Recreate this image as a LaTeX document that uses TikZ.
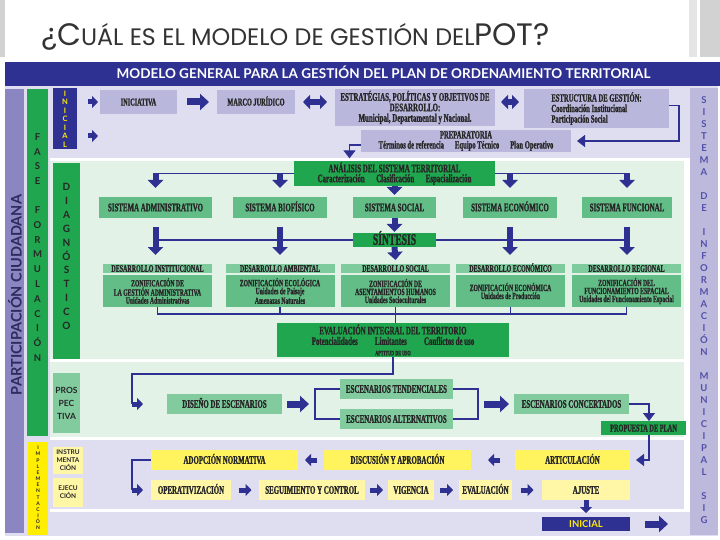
\documentclass[tikz,border=0pt]{standalone}
\usepackage{fontspec}
\usepackage{tikz}
\usetikzlibrary{arrows.meta,positioning,calc}
\newfontfamily\cond{Liberation Serif}[FakeStretch=0.6,BoldFeatures={FakeBold=1.2}]
\newfontfamily\gill{Lato}
\newfontfamily\ttl{Poppins}
\newcommand\boxfont[2]{\cond\bfseries\fontsize{#1}{#2}\selectfont}
\newcommand\capfont[2]{\gill\bfseries\fontsize{#1}{#2}\selectfont}
\definecolor{navy}{HTML}{2E3192}
\definecolor{lavbg}{HTML}{DFDEF0}
\definecolor{lavbox}{HTML}{B9B7DB}
\definecolor{sigcol}{HTML}{BCB9DD}
\definecolor{sigtxt}{HTML}{5350A8}
\definecolor{partcol}{HTML}{8B85C2}
\definecolor{parttxt}{HTML}{2F2B5E}
\definecolor{greenbg}{HTML}{E3F2E7}
\definecolor{dgreen}{HTML}{1FA64E}
\definecolor{mgreen}{HTML}{62BD87}
\definecolor{hgreen}{HTML}{7ECB9E}
\definecolor{pgreen}{HTML}{82CB9F}
\definecolor{ybright}{HTML}{FFEE00}
\definecolor{yfill}{HTML}{FFF35E}
\definecolor{ypale}{HTML}{FFF7A6}
\definecolor{titlec}{HTML}{333333}
\tikzset{
  rowbox/.style={fill=lavbox,minimum height=24pt,font=\boxfont{10.5}{10.5},text height=7pt,text depth=0pt},
  lavmulti/.style={fill=lavbox,font=\boxfont{11}{10.5}},
  keybox/.style={fill=dgreen,font=\boxfont{11.5}{10}},
  sysbox/.style={fill=mgreen,minimum height=21pt,font=\boxfont{11.5}{11.5},text height=7.5pt,text depth=0pt},
  devhead/.style={fill=hgreen,minimum width=109pt,minimum height=9pt,inner sep=0pt,font=\boxfont{10}{10},text height=6.5pt,text depth=0pt},
  devbody/.style={fill=mgreen,minimum width=109pt,minimum height=32pt,font=\boxfont{9.5}{8}},
  scenbox/.style={fill=pgreen,minimum height=20pt,font=\boxfont{11.5}{11.5},text height=7.5pt,text depth=0pt},
  impbox/.style={fill=yfill,minimum height=20pt,font=\boxfont{11.5}{11.5},text height=7.5pt,text depth=0pt},
  exbox/.style={impbox,fill=ypale},
  conn/.style={draw=navy,line width=1.3pt},
  arrowline/.style={conn,-{Triangle[length=8pt,width=12pt]}},
  blk/.style={draw=navy,line width=6pt,-{Triangle[length=8pt,width=15pt]}},
  blkS/.style={draw=navy,line width=5pt,-{Triangle[length=6pt,width=12pt]}},
  bigblk/.style={draw=navy,line width=7pt,-{Triangle[length=9pt,width=16pt]}},
  dbl/.style={draw=navy,line width=6pt,{Triangle[length=7pt,width=14pt]}-{Triangle[length=7pt,width=14pt]}}
}
\begin{document}
\begin{tikzpicture}[x=1pt,y=-1pt,every node/.style={inner sep=1pt,outer sep=0pt,align=center,text=black!85}]
\useasboundingbox (0,0) rectangle (720,540);
\fill[gray!35] (0,0) rectangle (5,57);
\fill[gray!20] (689,0) rectangle (697,57);
\fill[gray!35] (700,0) rectangle (720,57);
\node[anchor=base west,font=\ttl,text=titlec] (title) at (40,46) {{\fontsize{31}{31}\selectfont ¿C}{\fontsize{23.8}{23.8}\selectfont UÁL ES EL MODELO DE GESTIÓN DEL}{\fontsize{31}{31}\selectfont POT?}};

\fill[lavbg] (5,86) rectangle (718,536);
\fill[navy] (5,62) rectangle (720,86);
\node[font=\capfont{13.5}{13.5},text=white,text height=9.5pt,text depth=0pt] (head) at (383.5,74) {MODELO GENERAL PARA LA GESTIÓN DEL PLAN DE ORDENAMIENTO TERRITORIAL};
\fill[white] (50,158) rectangle (690,512);
\fill[greenbg] (50,161) rectangle (684,359);
\fill[greenbg] (50,362) rectangle (684,437);
\fill[lavbg] (50,440) rectangle (684,509);

\fill[partcol] (5,89) rectangle (24,533);
\node[rotate=90,font=\capfont{14.5}{14.5},text=parttxt] (part) at (15,295) {PARTICIPACIÓN CIUDADANA};
\fill[dgreen] (27,89) rectangle (48,436);
\node[font=\capfont{9.5}{14.8}] (fase) at (37.5,247.5) {F\\A\\S\\E\\[14pt]F\\O\\R\\M\\U\\L\\A\\C\\I\\Ó\\N};
\node[fill=navy,minimum width=24,minimum height=61,text=ybright,font=\capfont{7.5}{8.5}] (inic) at (65,119) {I\\N\\I\\C\\I\\A\\L};
\fill[dgreen] (53,163) rectangle (80,359);
\node[font=\capfont{10}{13.9}] (diag) at (66.5,256.5) {D\\I\\A\\G\\N\\Ó\\S\\T\\I\\C\\O};
\node[fill=pgreen,minimum width=27,minimum height=60,font=\capfont{8.5}{13}] (pros) at (66.5,403) {PROS\\PEC\\TIVA};
\fill[ybright] (28,442) rectangle (48,535);
\node[font=\capfont{5}{6.15}] (impl) at (38,488) {I\\M\\P\\L\\E\\M\\E\\N\\T\\A\\C\\I\\Ó\\N};
\node[fill=ypale,minimum width=30,minimum height=27,font=\capfont{6.5}{8}] (instr) at (68,460) {INSTRU\\MENTA\\CIÓN};
\node[fill=ypale,minimum width=30,minimum height=29,font=\capfont{6.5}{8}] (ejec) at (68,492) {EJECU\\CIÓN};
\fill[sigcol] (690,88) rectangle (718,535);
\node[font=\capfont{9.5}{12},text=sigtxt] (sig) at (704,310) {S\\I\\S\\T\\E\\M\\A\\[12pt]D\\E\\[12pt]I\\N\\F\\O\\R\\M\\A\\C\\I\\Ó\\N\\[12pt]M\\U\\N\\I\\C\\I\\P\\A\\L\\[12pt]S\\I\\G};

\node[rowbox,minimum width=77] (ini) at (138.5,102) {INICIATIVA};
\node[rowbox,minimum width=78] (marco) at (256,102) {MARCO JURÍDICO};
\node[lavmulti,minimum width=160,minimum height=37,font=\boxfont{11.5}{10.5}] (estr) at (415,107.5) {ESTRATÉGIAS, POLÍTICAS Y OBJETIVOS DE\\DESARROLLO:\\Municipal, Departamental y Nacional.};
\node[lavmulti,minimum width=145,minimum height=39,align=left] (gest) at (596.5,108.5) {ESTRUCTURA DE GESTIÓN:\\Coordinación Institucional\\Participación Social};
\node[lavmulti,minimum width=210,minimum height=22,font=\boxfont{11}{10}] (prep) at (466,141) {PREPARATORIA\\Términos de referencia\quad Equipo Técnico\quad Plan Operativo};
\coordinate (inic2) at (98,136);
\draw[blkS] ([xshift=11pt]inic.east |- ini.west) -- ([xshift=-2pt]ini.west);
\draw[blkS] ([xshift=11pt]inic.east |- inic2) -- (inic2);
\draw[bigblk] ([xshift=10pt]ini.east) -- ([xshift=-8pt]marco.west);
\draw[dbl] ([xshift=8pt]marco.east) -- ([xshift=-8pt]estr.west |- marco.east);
\draw[dbl] ([xshift=6pt]estr.east |- marco.east) -- ([xshift=-5pt]gest.west |- marco.east);
\draw[arrowline] ([yshift=3pt]gest.east) -- ++(10,0) |- ([xshift=6pt]prep.east);

\node[keybox,minimum width=201,minimum height=21] (anal) at (394.5,173.5) {ANÁLISIS DEL SISTEMA TERRITORIAL\\Caracterización\quad Clasificación\quad Espacialización};
\draw[arrowline] ([yshift=-4pt]prep.west) -| ([xshift=-45pt,yshift=3pt]anal.north);
\node[sysbox,minimum width=113] (sadm) at (155.5,207.5) {SISTEMA ADMINISTRATIVO};
\node[sysbox,minimum width=94] (sbio) at (280,207.5) {SISTEMA BIOFÍSICO};
\node[sysbox,minimum width=83] (ssoc) at (394.5,207.5) {SISTEMA SOCIAL};
\node[sysbox,minimum width=94] (seco) at (510,207.5) {SISTEMA ECONÓMICO};
\node[sysbox,minimum width=90] (sfun) at (627,207.5) {SISTEMA FUNCIONAL};
\node[keybox,minimum width=83,minimum height=14,font=\boxfont{16}{16},text height=9.5pt,text depth=0pt] (sint) at (394.5,240) {SÍNTESIS};

\node[devhead] (dins) at (157.5,268.5) {DESARROLLO INSTITUCIONAL};
\node[devbody,below=2pt of dins] (zins) {ZONIFICACIÓN DE\\LA GESTIÓN ADMINISTRATIVA\\Unidades Administrativas};
\node[devhead] (damb) at (280,268.5) {DESARROLLO AMBIENTAL};
\node[devbody,below=2pt of damb] (zamb) {ZONIFICACIÓN ECOLÓGICA\\Unidades de Paisaje\\Amenazas Naturales};
\node[devhead] (dsoc) at (395.5,268.5) {DESARROLLO SOCIAL};
\node[devbody,below=2pt of dsoc] (zsoc) {ZONIFICACIÓN DE\\ASENTAMIENTOS HUMANOS\\Unidades Socioculturales};
\node[devhead] (deco) at (510.5,268.5) {DESARROLLO ECONÓMICO};
\node[devbody,below=2pt of deco] (zeco) {ZONIFICACIÓN ECONÓMICA\\Unidades de Producción};
\node[devhead] (dreg) at (626.5,268.5) {DESARROLLO REGIONAL};
\node[devbody,below=2pt of dreg] (zreg) {ZONIFICACIÓN DEL\\FUNCIONAMIENTO ESPACIAL\\Unidades del Funcionamiento Espacial};
\node[keybox,minimum width=232,minimum height=34,font=\boxfont{11.5}{10.5}] (eval) at (393,340) {EVALUACIÓN INTEGRAL DEL TERRITORIO\\Potencialidades\quad\enspace Limitantes\quad\enspace Conflictos de uso\\{\boxfont{7}{7}APTITUD DE USO}};

\draw[conn] (anal.west) -- (anal.west -| sadm.north);
\draw[conn] (anal.east) -- (anal.east -| sfun.north);
\foreach \src in {sadm,sbio,seco,sfun}
  \draw[blk] (\src.north |- anal.west) -- ([yshift=9pt]\src.north);
\draw[blk] (anal.south) -- ([yshift=2pt]ssoc.north);
\draw[blk] (ssoc.south) -- ([yshift=1pt]sint.north);
\draw[conn] (sint.west) -- (sint.west -| sadm.south);
\draw[conn] (sint.east) -- (sint.east -| sfun.south);
\foreach \src/\dst in {sadm/dins,sbio/damb,seco/deco,sfun/dreg}
  \draw[blk] ([yshift=-9pt]\src.south) -- ([yshift=9pt]\src.south |- \dst.north);
\draw[blk] (sint.south) -- ([yshift=4pt]dsoc.north);
\draw[conn] (zins.south) -- ++(0,7) -| (zreg.south);
\foreach \src in {zamb,zsoc,zeco}
  \draw[conn] (\src.south) -- ++(0,7);
\draw[conn] (zsoc.south) -- (zsoc.south |- eval.north);

\node[scenbox,minimum width=115] (dis) at (224.5,404) {DISEÑO DE ESCENARIOS};
\node[scenbox,minimum width=113] (ten) at (396.5,389) {ESCENARIOS TENDENCIALES};
\node[scenbox,minimum width=113,below=10pt of ten] (alt) {ESCENARIOS ALTERNATIVOS};
\node[scenbox,minimum width=115] (con) at (571.5,404) {ESCENARIOS CONCERTADOS};
\node[keybox,minimum width=85,minimum height=14,font=\boxfont{10.5}{10.5},text height=7pt,text depth=0pt] (prop) at (643.5,428) {PROPUESTA DE PLAN};
\draw[conn] (eval.south) -- ++(0,17) -| ([xshift=-35pt]dis.west);
\draw[blkS] ([xshift=-35pt]dis.west) -- ([xshift=-24pt]dis.west);
\draw[bigblk] ([xshift=5pt]dis.east) -- ([xshift=-31pt]ten.west |- dis.east);
\draw[conn] (ten.west) -- ++(-25,0) |- (alt.west);
\draw[conn] (ten.east) -- ++(25,0) |- (alt.east);
\draw[bigblk] ([xshift=31pt]ten.east |- con.west) -- ([xshift=-5pt]con.west);
\draw[arrowline] (con.east) -| ([xshift=5.5pt]prop.north);

\node[impbox,minimum width=147] (ado) at (224.5,460) {ADOPCIÓN NORMATIVA};
\node[impbox,minimum width=147] (disc) at (397.5,460) {DISCUSIÓN Y APROBACIÓN};
\node[impbox,minimum width=115] (art) at (572.5,460) {ARTICULACIÓN};
\node[exbox,minimum width=80] (ope) at (191,490) {OPERATIVIZACIÓN};
\node[exbox,minimum width=106] (seg) at (312,490) {SEGUIMIENTO Y CONTROL};
\node[exbox,minimum width=46] (vig) at (411,490) {VIGENCIA};
\node[exbox,minimum width=53] (eva) at (485.5,490) {EVALUACIÓN};
\node[exbox,minimum width=88] (aju) at (586,490) {AJUSTE};
\node[fill=navy,minimum width=88,minimum height=14,text=ybright,font=\capfont{9.5}{9.5},text height=7pt,text depth=0pt] (fin) at (586,524) {INICIAL};
\coordinate (sigin) at (668,524);
\draw[arrowline] ([xshift=5.5pt]prop.south) |- ([xshift=6pt]art.east);
\draw[blkS] ([xshift=-15pt]art.west) -- ([xshift=17pt]disc.east);
\draw[blkS] ([xshift=-7pt]disc.west) -- ([xshift=7pt]ado.east);
\draw[conn] (ado.west) -- ++(-19,0) |- ([xshift=-19pt]ope.west);
\draw[blkS] ([xshift=-19pt]ope.west) -- ([xshift=-8pt]ope.west);
\foreach \src/\dst in {ope/seg,seg/vig,vig/eva,eva/aju}
  \draw[blkS] ($(\src.east)!0.5!(\dst.west)+(-6.5,0)$) -- ++(13,0);
\draw[blkS] (aju.south) -- ([yshift=4pt]fin.north);
\draw[bigblk] ([xshift=15pt]fin.east) -- (sigin);
\end{tikzpicture}
\end{document}
